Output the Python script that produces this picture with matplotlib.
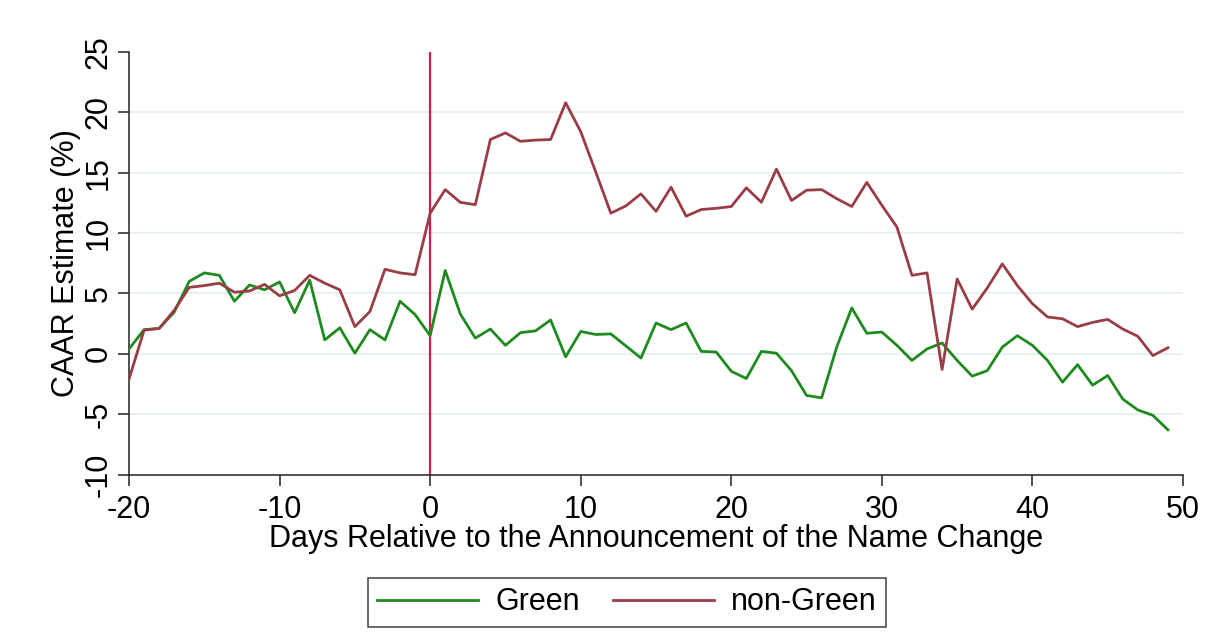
import matplotlib
matplotlib.use("Agg")
import matplotlib.pyplot as plt
import numpy as np

plt.rcParams['font.family'] = ['Liberation Sans', 'DejaVu Sans']
plt.rcParams['axes.unicode_minus'] = False

# event window, days relative to the announcement
days = list(range(-20, 50))

green = [0.4, 2.0, 2.1, 3.45, 6.0, 6.7, 6.5, 4.35, 5.7, 5.3,
         5.95, 3.4, 6.1, 1.15, 2.15, 0.05, 2.0, 1.15, 4.35, 3.25,
         1.5, 6.9, 3.3, 1.3, 2.05, 0.7, 1.75, 1.9, 2.8, -0.25,
         1.85, 1.6, 1.65, 0.65, -0.35, 2.55, 2.0, 2.55, 0.2, 0.15,
         -1.45, -2.05, 0.2, 0.05, -1.4, -3.45, -3.65, 0.55, 3.8, 1.7,
         1.8, 0.7, -0.55, 0.4, 0.9, -0.55, -1.85, -1.4, 0.55, 1.5,
         0.7, -0.55, -2.35, -0.9, -2.6, -1.8, -3.75, -4.65, -5.1, -6.3]

non_green = [-2.1, 1.95, 2.1, 3.6, 5.5, 5.65, 5.85, 5.1, 5.2, 5.75,
             4.8, 5.25, 6.5, 5.85, 5.3, 2.25, 3.5, 7.0, 6.7, 6.55,
             11.65, 13.6, 12.55, 12.35, 17.75, 18.3, 17.6, 17.7, 17.75, 20.8,
             18.4, 15.05, 11.65, 12.25, 13.25, 11.8, 13.8, 11.4, 11.95, 12.05,
             12.2, 13.75, 12.55, 15.3, 12.7, 13.55, 13.6, 12.85, 12.2, 14.2,
             12.3, 10.5, 6.5, 6.7, -1.3, 6.2, 3.7, 5.45, 7.45, 5.65,
             4.15, 3.05, 2.9, 2.25, 2.6, 2.85, 2.05, 1.45, -0.15, 0.5]

x_ticks = [-20, -10, 0, 10, 20, 30, 40, 50]
y_ticks = [-10, -5, 0, 5, 10, 15, 20, 25]

fig = plt.figure(figsize=(12.08, 6.42), dpi=100)
ax = fig.add_axes([0.1068, 0.2609, 0.9793 - 0.1068, 0.919 - 0.2609])

for y in [-5, 0, 5, 10, 15, 20]:
    ax.axhline(y, color='#e8f0f2', lw=1.6, zorder=0)

ax.plot(days, green, color='#1f8a1f', lw=2.0, label='Green', zorder=3)
ax.plot(days, non_green, color='#993d47', lw=2.0, label='non-Green', zorder=3)
ax.axvline(0, color='#cc1f4e', lw=1.6, zorder=2)

ax.set_xlim(-20, 50)
ax.set_ylim(-10, 25)
ax.set_xticks(x_ticks)
ax.set_yticks(y_ticks)
ax.set_yticklabels([str(v) for v in y_ticks], rotation=90, va='center')
ax.tick_params(axis='both', labelsize=22, length=8, width=1.1, color='#222222',
               direction='out')
ax.tick_params(axis='y', pad=3)
ax.tick_params(axis='x', pad=7)

for side in ['top', 'right']:
    ax.spines[side].set_visible(False)
for side in ['left', 'bottom']:
    ax.spines[side].set_color('#222222')
    ax.spines[side].set_linewidth(1.1)

ax.set_xlabel('Days Relative to the Announcement of the Name Change', fontsize=22, labelpad=-1)
ax.set_ylabel('CAAR Estimate (%)', fontsize=22, labelpad=2)

leg = fig.legend(loc='center', bbox_to_anchor=(627 / 1208, 1 - 602.5 / 642), ncol=2,
                 fontsize=22, frameon=True, fancybox=False, handlelength=3.3,
                 handletextpad=0.55, columnspacing=1.1, borderpad=0.3)
leg.get_frame().set_edgecolor('#111111')
leg.get_frame().set_linewidth(1.1)
for line in leg.get_lines():
    line.set_linewidth(2.0)

fig.savefig('out.png', dpi=100, facecolor='white')
